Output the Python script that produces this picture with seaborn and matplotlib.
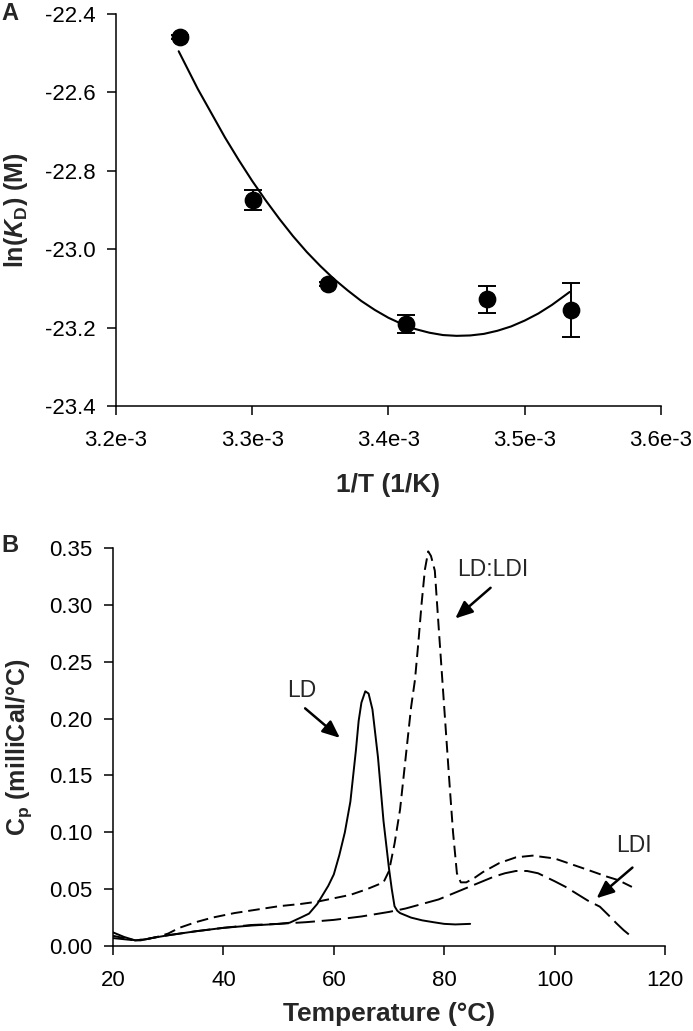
import matplotlib
matplotlib.use("Agg")
import matplotlib.pyplot as plt
import seaborn as sns
from matplotlib.ticker import FuncFormatter, MultipleLocator

# A: ln(KD) vs 1/T
inv_t = [3.2468e-3, 3.3003e-3, 3.3557e-3, 3.4130e-3, 3.4722e-3, 3.5336e-3]
ln_kd = [-22.459, -22.874, -23.088, -23.191, -23.128, -23.155]
ln_kd_err = [0.005, 0.026, 0.005, 0.024, 0.035, 0.068]

fit_x = [3.246e-3, 3.26e-3, 3.27e-3, 3.28e-3, 3.29e-3, 3.30e-3, 3.31e-3, 3.32e-3,
         3.33e-3, 3.34e-3, 3.35e-3, 3.36e-3, 3.37e-3, 3.38e-3, 3.39e-3, 3.40e-3,
         3.41e-3, 3.42e-3, 3.43e-3, 3.44e-3, 3.45e-3, 3.46e-3, 3.47e-3, 3.48e-3,
         3.49e-3, 3.50e-3, 3.51e-3, 3.52e-3, 3.533e-3]
fit_y = [-22.495, -22.591, -22.653, -22.715, -22.772, -22.826, -22.876, -22.923,
         -22.967, -23.007, -23.043, -23.076, -23.105, -23.132, -23.155, -23.175,
         -23.191, -23.204, -23.213, -23.219, -23.221, -23.220, -23.216, -23.208,
         -23.197, -23.182, -23.164, -23.142, -23.109]

# B: DSC traces
t_ld = [20, 22, 24, 25, 27, 30, 35, 40, 45, 50, 52, 54, 55.5, 57, 58, 59, 60, 61, 62,
        63, 64, 64.5, 65, 65.7, 66.3, 67, 68, 69, 70, 70.5, 71, 71.5, 72, 74, 76,
        78, 80, 82, 84.7]
cp_ld = [0.012, 0.008, 0.005, 0.005, 0.007, 0.0095, 0.013, 0.016, 0.018, 0.0195,
         0.0205, 0.025, 0.0285, 0.037, 0.045, 0.053, 0.063, 0.08, 0.1, 0.127, 0.172,
         0.198, 0.214, 0.224, 0.222, 0.208, 0.166, 0.11, 0.068, 0.05, 0.035, 0.031,
         0.029, 0.025, 0.0226, 0.021, 0.0195, 0.019, 0.0195]

t_mix = [20, 22, 24, 26, 28, 30, 32, 35, 38, 42, 46, 50, 54, 57, 60, 63, 66, 68, 69,
         70, 71, 72, 73, 74, 74.7, 75.3, 75.9, 76.5, 77.1, 77.6, 78.3, 79, 80, 81,
         81.6, 82.3, 83, 84, 85.5, 87, 90, 93, 96, 100, 103, 106, 109.5, 111.5, 114]
cp_mix = [0.009, 0.007, 0.005, 0.006, 0.008, 0.011, 0.016, 0.021, 0.025, 0.029,
          0.032, 0.035, 0.037, 0.039, 0.042, 0.045, 0.05, 0.054, 0.056, 0.066, 0.09,
          0.12, 0.165, 0.21, 0.234, 0.266, 0.301, 0.331, 0.347, 0.343, 0.33, 0.28,
          0.21, 0.14, 0.1, 0.064, 0.056, 0.056, 0.06, 0.065, 0.073, 0.078, 0.0795,
          0.077, 0.072, 0.067, 0.061, 0.058, 0.052]

t_ldi = [20, 22, 24, 26, 28, 30, 35, 40, 45, 50, 55, 60, 65, 70, 73, 76, 79, 81, 84,
         86, 89, 91, 93, 95, 97, 100, 102, 104, 106, 108.2, 110, 111.2, 112.5, 114]
cp_ldi = [0.007, 0.006, 0.005, 0.006, 0.008, 0.0095, 0.013, 0.016, 0.0185, 0.0195,
          0.021, 0.023, 0.026, 0.03, 0.033, 0.037, 0.041, 0.045, 0.051, 0.055, 0.061,
          0.064, 0.066, 0.066, 0.064, 0.057, 0.052, 0.046, 0.04, 0.0346, 0.026, 0.02,
          0.014, 0.008]

sns.set_style("ticks")
plt.rcParams["font.family"] = ["Liberation Sans", "DejaVu Sans"]
plt.rcParams["axes.unicode_minus"] = False
plt.rcParams["mathtext.fontset"] = "custom"
plt.rcParams["mathtext.rm"] = "Liberation Sans"
plt.rcParams["mathtext.it"] = "Liberation Sans:italic"
plt.rcParams["mathtext.bf"] = "Liberation Sans:bold"
plt.rcParams["mathtext.bfit"] = "Liberation Sans:bold:italic"

fig = plt.figure(figsize=(6.93, 10.31), dpi=100)
ax1 = fig.add_axes([0.1674, 0.6062, 0.7864, 0.3802])
ax2 = fig.add_axes([0.1631, 0.0824, 0.7965, 0.3861])

tick_font = 16
label_font = 19

# ---- panel A
sns.lineplot(x=fit_x, y=fit_y, color="black", lw=1.5, ax=ax1)
ax1.errorbar(inv_t, ln_kd, yerr=ln_kd_err, fmt="none", ecolor="black",
             elinewidth=1.4, capsize=6.5, capthick=1.4)
sns.scatterplot(x=inv_t, y=ln_kd, color="black", s=140, edgecolor="black", ax=ax1, zorder=3)
ax1.set_xlim(3.2e-3, 3.6e-3)
ax1.set_ylim(-23.4, -22.4)
ax1.xaxis.set_major_locator(MultipleLocator(0.1e-3))
ax1.yaxis.set_major_locator(MultipleLocator(0.2))
ax1.xaxis.set_major_formatter(FuncFormatter(lambda v, _: f"{v * 1e3:.1f}e-3"))
ax1.yaxis.set_major_formatter(FuncFormatter(lambda v, _: f"{v:.1f}"))
ax1.set_xlabel("1/T (1/K)", fontsize=label_font, fontweight="bold")
ax1.set_ylabel(r"ln($\mathbfit{K}_{\mathbf{D}}$) (M)", fontsize=18, fontweight="bold")
ax1.xaxis.set_label_coords(0.5, -0.172)
ax1.yaxis.set_label_coords(-0.158, 0.5)

# ---- panel B
sns.lineplot(x=t_ld, y=cp_ld, color="black", lw=1.4, ax=ax2)
sns.lineplot(x=t_mix, y=cp_mix, color="black", lw=1.4, ax=ax2)
ax2.lines[-1].set_dashes((6, 3))
sns.lineplot(x=t_ldi, y=cp_ldi, color="black", lw=1.4, ax=ax2)
ax2.lines[-1].set_dashes((10, 3.5))
ax2.set_xlim(20, 120)
ax2.set_ylim(0, 0.35)
ax2.xaxis.set_major_locator(MultipleLocator(20))
ax2.yaxis.set_major_locator(MultipleLocator(0.05))
ax2.yaxis.set_major_formatter(FuncFormatter(lambda v, _: f"{v:.2f}"))
ax2.set_xlabel("Temperature (°C)", fontsize=label_font, fontweight="bold")
ax2.set_ylabel(r"$\mathbf{C_p}$ (milliCal/°C)", fontsize=18, fontweight="bold")
ax2.xaxis.set_label_coords(0.5, -0.14)
ax2.yaxis.set_label_coords(-0.143, 0.5)

arrow = dict(arrowstyle="-|>,head_length=0.7,head_width=0.3", color="black",
             lw=1.8, mutation_scale=15, shrinkA=0, shrinkB=0)
ann_font = 16.5
ax2.text(54.1, 0.225, "LD", fontsize=ann_font, ha="center", va="center")
ax2.annotate("", xy=(61.1, 0.183), xytext=(54.8, 0.209), arrowprops=arrow)
ax2.text(88.8, 0.331, "LD:LDI", fontsize=ann_font, ha="center", va="center")
ax2.annotate("", xy=(82.0, 0.288), xytext=(88.4, 0.315), arrowprops=arrow)
ax2.text(114.4, 0.0888, "LDI", fontsize=ann_font, ha="center", va="center")
ax2.annotate("", xy=(107.6, 0.042), xytext=(114.1, 0.069), arrowprops=arrow)

for ax in (ax1, ax2):
    sns.despine(ax=ax)
    for side in ("left", "bottom"):
        ax.spines[side].set_linewidth(1.1)
        ax.spines[side].set_color("black")
    ax.tick_params(axis="both", direction="out", length=6.5, width=1.1,
                   labelsize=tick_font, colors="black")
ax1.tick_params(axis="y", pad=8.5)
ax1.tick_params(axis="x", pad=11)
ax2.tick_params(axis="y", pad=8.5)
ax2.tick_params(axis="x", pad=10.5)

fig.text(10 / 693, 1 - 14 / 1031, "A", fontsize=17, fontweight="bold", ha="center", va="center")
fig.text(10 / 693, 1 - 545 / 1031, "B", fontsize=17, fontweight="bold", ha="center", va="center")

fig.savefig("out.png", dpi=100)
